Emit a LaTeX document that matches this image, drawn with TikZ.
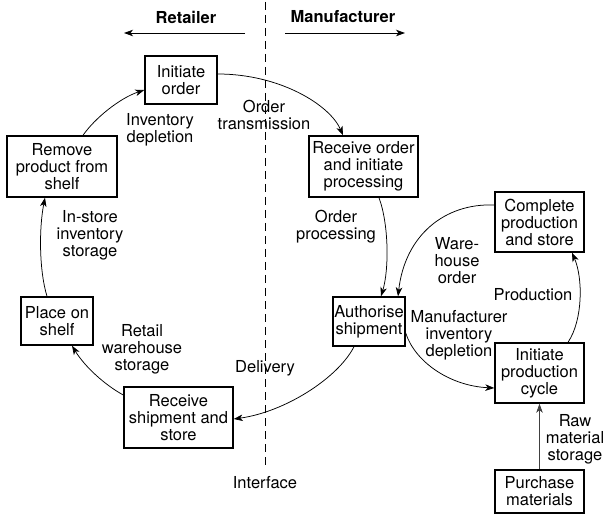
\documentclass[tikz,border=0pt]{standalone}
\usepackage{fontspec}
\setmainfont{TeX Gyre Heros}
\usetikzlibrary{arrows.meta,calc}
\begin{document}
\begin{tikzpicture}[x=1pt,y={(0pt,-1pt)},
  txt/.style={font=\fontsize{16.5}{17}\selectfont, inner sep=0pt, align=center},
  hdr/.style={font=\fontsize{16.5}{17}\selectfont\bfseries, inner sep=0pt},
  box/.style={txt, draw, line width=1.4pt},
  conn/.style={line width=0.75pt, -{Stealth[length=9pt,width=6.5pt,inset=2.5pt]}},
  dashline/.style={line width=0.8pt, dash pattern=on 8pt off 5pt},
]
\useasboundingbox (0,0) rectangle (610,521);

% headers and interface line
\node[hdr] (ret) at (186,17) {Retailer};
\node[hdr] (man) at (343,17) {Manufacturer};
\coordinate (la1) at (245,33);
\coordinate (la2) at (124,33);
\coordinate (ra1) at (285,33);
\coordinate (ra2) at (405,33);
\draw[conn] (la1) -- (la2);
\draw[conn] (ra1) -- (ra2);
\coordinate (dtop) at (265,2);
\coordinate (dbot) at (265,465);
\draw[dashline] (dtop) -- (dbot);
\node[txt] (iface) at (265,483) {Interface};

% boxes
\node[box, minimum width=72pt, minimum height=48pt] (io) at (181,80) {Initiate\\order};
\node[box, minimum width=110pt, minimum height=61pt] (rp) at (62,166.5) {Remove\\product from\\shelf};
\node[box, minimum width=109pt, minimum height=61pt] (ro) at (363.5,166.5) {Receive order\\and initiate\\processing};
\node[box, minimum width=89pt, minimum height=60pt] (cp) at (539.5,222) {Complete\\production\\and store};
\node[box, minimum width=72pt, minimum height=48pt] (ps) at (57,321) {Place on\\shelf};
\node[box, minimum width=72pt, minimum height=49pt] (as) at (369,321.5) {Authorise\\shipment};
\node[box, minimum width=89pt, minimum height=60pt] (ipc) at (539.5,373) {Initiate\\production\\cycle};
\node[box, minimum width=109pt, minimum height=61pt] (rs) at (178.5,417.5) {Receive\\shipment and\\store};
\node[box, minimum width=89pt, minimum height=43pt] (pm) at (539.5,491.5) {Purchase\\materials};

% labels
\node[txt] (l1) at (264,114.5) {Order\\transmission};
\node[txt] (l2) at (160,129.5) {Inventory\\depletion};
\node[txt] (l3) at (90,235) {In-store\\inventory\\storage};
\node[txt] (l4) at (336,227) {Order\\processing};
\node[txt] (l5) at (457,261) {Ware-\\house\\order};
\node[txt] (l6) at (533,295) {Production};
\node[txt] (l7) at (459,335) {Manufacturer\\inventory\\depletion};
\node[txt] (l8) at (142,349) {Retail\\warehouse\\storage};
\node[txt] (l9) at (265,368) {Delivery};
\node[txt] (l10) at (575,439) {Raw\\material\\storage};

% connectors
\draw[conn] ($(io.east)+(0,-6)$) .. controls (280,74) and (330,105) .. ($(ro.north)+(-20.5,0)$);
\draw[conn] ($(rp.north)+(21,0)$) .. controls (95,118) and (120,98) .. ($(io.west)+(0,10)$);
\draw[conn] ($(ps.north)+(-10,0)$) .. controls (39,270) and (39,228) .. ($(rp.south)+(-17,0)$);
\draw[conn] ($(rs.west)+(0,-22.5)$) .. controls (105,385) and (85,367) .. ($(ps.south)+(15,0)$);
\draw[conn] ($(as.south)+(-15,0)$) .. controls (338,378) and (285,412) .. ($(rs.east)+(0,1.5)$);
\draw[conn] ($(ro.south)+(15.5,0)$) .. controls (389,225) and (389,270) .. ($(as.north)+(12,0)$);
\draw[conn] ($(cp.west)+(0,-17)$) .. controls (445,203) and (405,235) .. ($(as.north)+(29,0)$);
\draw[conn] ($(as.east)+(0,11.5)$) .. controls (415,362) and (450,386) .. ($(ipc.west)+(0,15)$);
\draw[conn] ($(ipc.north)+(28.5,0)$) .. controls (583,320) and (583,278) .. ($(cp.south)+(32.5,0)$);
\draw[conn, draw=black!75] (pm.north) -- (ipc.south);
\end{tikzpicture}
\end{document}
